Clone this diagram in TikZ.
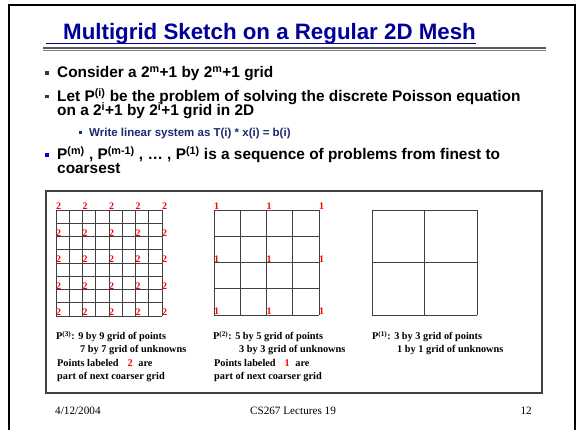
\documentclass[tikz,border=0pt]{standalone}
\usepackage{fontspec}
\setmainfont{Liberation Sans}
\newfontfamily\slideserif{Liberation Serif}
\usetikzlibrary{positioning}
\definecolor{ttlblue}{HTML}{000099}
\definecolor{subblue}{HTML}{1C2A6E}
\definecolor{bulblue}{HTML}{0000CC}
\definecolor{bulgray}{HTML}{333355}
\definecolor{lblred}{HTML}{FF0000}
\definecolor{meshgray}{HTML}{404040}
\definecolor{rulegray}{HTML}{7F7F7F}
\newcommand{\upidx}[1]{\textsuperscript{#1}}
\tikzset{
  % slide text, all set on its base line
  ttl/.style   = {font=\fontsize{22.3}{25}\selectfont\bfseries, text=ttlblue,
                  anchor=base west, inner sep=0pt},
  bul/.style   = {font=\fontsize{15.4}{17}\selectfont\bfseries, anchor=base west, inner sep=0pt},
  sbul/.style  = {font=\fontsize{11.5}{13}\selectfont\bfseries, text=subblue,
                  anchor=base west, inner sep=0pt},
  sq/.style    = {rectangle, fill=#1, minimum size=3.8pt, inner sep=0pt},
  sq/.default  = bulgray,
  captxt/.style = {font=\slideserif\fontsize{10.3}{12}\selectfont\bfseries,
                  anchor=base west, inner sep=0pt},
  foot/.style  = {font=\slideserif\fontsize{11.2}{13}\selectfont, anchor=base, inner sep=0pt},
  ptlbl/.style = {font=\slideserif\fontsize{10}{10}\selectfont\bfseries, text=lblred,
                  anchor=south west, inner sep=0pt},
  mesh/.style  = {draw=meshgray, line width=0.9pt},
}
\begin{document}
\begin{tikzpicture}[x=1pt,y=-1pt]
\useasboundingbox (0,0) rectangle (579,430);
% slide frame, open at the bottom
\draw[line width=2.2pt] (9,430) -- (9,5) -- (575,5) -- (575,430);
% title
\node[ttl] (ttl) at (63,40) {Multigrid Sketch on a Regular 2D Mesh};
\coordinate (ul) at (46,43.5);
\draw[ttlblue, line width=1.3pt] (ul) -- (ul -| ttl.east);
\coordinate (rl) at (43,48);
\coordinate (rr) at (546,48);
\draw[rulegray!70!black, line width=1.6pt] (rl) -- (rr);
\draw[rulegray, line width=0.7pt] ([yshift=-2.6pt]rl) -- ([yshift=-2.6pt]rr);
% bullets
\node[sq] (q1) at (47,73) {};
\node[bul] (b1) at (57,78) {Consider a 2\upidx{m}+1 by 2\upidx{m}+1 grid};
\node[sq] (q2) at (47,96.5) {};
\node[bul] (b2a) at (57,101.5) {Let P\upidx{(i)} be the problem of solving the discrete Poisson equation};
\node[bul] (b2b) at (57,116) {on a 2\upidx{i}+1 by 2\upidx{i}+1 grid in 2D};
\node[sq=subblue, minimum size=3pt] (q3) at (80,132.5) {};
\node[sbul] (s1) at (89,136.5) {Write linear system as T(i) * x(i) = b(i)};
\node[sq=bulblue] (q4) at (47,155) {};
\node[bul] (b3a) at (57,160) {P\upidx{(m)} , P\upidx{(m-1)} , … , P\upidx{(1)} is a sequence of problems from finest to};
\node[bul] (b3b) at (57,174) {coarsest};
% picture box
\draw[line width=1.1pt, black!75] (46,191) rectangle (542,393);
% finest grid
\foreach \k in {0,...,8} {
  \draw[mesh] (56+\k*13.25,210) -- (56+\k*13.25,316);
  \draw[mesh] (56,210+\k*13.25) -- (162,210+\k*13.25);
}
\foreach \i in {0,2,...,8}
  \foreach \j in {0,2,...,8}
    \node[ptlbl] (p3-\i-\j) at (56+\i*13.25,210+\j*13.25) {2};
% middle grid
\foreach \k in {0,...,4} {
  \draw[mesh] (214+\k*26.25,210) -- (214+\k*26.25,315);
  \draw[mesh] (214,210+\k*26.25) -- (319,210+\k*26.25);
}
\foreach \i in {0,2,4}
  \foreach \j in {0,2,4}
    \node[ptlbl] (p2-\i-\j) at (214+\i*26.25,210+\j*26.25) {1};
% coarsest grid
\foreach \k in {0,...,2} {
  \draw[mesh] (372+\k*52.5,210) -- (372+\k*52.5,315);
  \draw[mesh] (372,210+\k*52.5) -- (477,210+\k*52.5);
}
% captions
\node[captxt] (c3a) at (56,340) {P\upidx{(3)}: 9 by 9 grid of points};
\node[captxt] (c3b) at (80,353) {7 by 7 grid of unknowns};
\node[captxt] (c3c) at (57,367) {Points labeled\hspace{9pt}\textcolor{lblred}{2}\hspace{3pt} are};
\node[captxt] (c3d) at (57,380) {part of next coarser grid};
\node[captxt] (c2a) at (213,340) {P\upidx{(2)}: 5 by 5 grid of points};
\node[captxt] (c2b) at (239,353) {3 by 3 grid of unknowns};
\node[captxt] (c2c) at (214,367) {Points labeled\hspace{9pt}\textcolor{lblred}{1}\hspace{3pt} are};
\node[captxt] (c2d) at (214,380) {part of next coarser grid};
\node[captxt] (c1a) at (372,340) {P\upidx{(1)}: 3 by 3 grid of points};
\node[captxt] (c1b) at (397,353) {1 by 1 grid of unknowns};
% footer
\node[foot, anchor=base west] (fdate) at (55,415) {4/12/2004};
\node[foot] (fcourse) at (293,415) {CS267 Lectures 19};
\node[foot, anchor=base east] (fpage) at (532,415) {12};
\end{tikzpicture}
\end{document}
